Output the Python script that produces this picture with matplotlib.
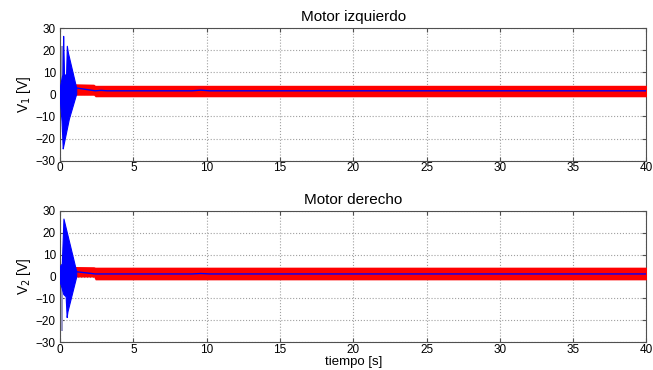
import numpy as np
import matplotlib
matplotlib.use('Agg')
import matplotlib.pyplot as plt

plt.rcParams['font.family'] = ['Liberation Sans', 'DejaVu Sans']

# envelope of the blue transient, top panel
t_up1 = [0.0, 0.12, 0.16, 0.21, 0.27, 0.41, 0.46, 0.53, 1.1]
up1 = [4, 8, 9, 26.5, 9, 9, 22, 19, 3]
t_lo1 = [0.0, 0.1, 0.18, 0.6, 1.1]
lo1 = [-4, -12, -24.5, -11, 0.3]
# gray shading at the very beginning
t_gray1 = [0.0, 0.2]
gray_lo1 = [-10, -10]
gray_hi1 = [22, 22]

# bottom panel
t_up2 = [0.0, 0.12, 0.23, 1.1]
up2 = [5, 6, 26.5, 2.5]
t_lo2 = [0.0, 0.1, 0.22, 0.38, 0.45, 0.5, 1.1]
lo2 = [-3, -5, -8, -9, -18.5, -16, 0]
t_gray2 = [0.0, 0.2]
gray_lo2 = [-25, -25]
gray_hi2 = [5, 5]

# red band (dense switching signal) and blue mean line
t_red = [1.0, 2.3, 2.4, 40.0]
red_lo1 = [-0.4, -0.4, -1.1, -1.1]
red_hi1 = [4.8, 4.6, 4.1, 4.1]
red_lo2 = [-0.2, -0.2, -1.5, -1.5]
red_hi2 = [4.6, 4.5, 4.3, 4.3]

t_mean = [1.0, 2.4, 2.8, 3.2, 9.0, 9.6, 10.2, 40.0]
mean1 = [3.0, 1.6, 1.8, 1.6, 1.6, 1.9, 1.6, 1.6]
mean2 = [2.3, 1.2, 1.2, 1.2, 1.2, 1.4, 1.2, 1.2]

titles = ['Motor izquierdo', 'Motor derecho']
ylabels = ['V$_1$ [V]', 'V$_2$ [V]']

fig = plt.figure(figsize=(6.53, 3.70), dpi=100)
ax1 = fig.add_axes([0.092, 0.566, 0.898, 0.358])
ax2 = fig.add_axes([0.092, 0.075, 0.898, 0.355])

panels = [
    (ax1, t_up1, up1, t_lo1, lo1, t_gray1, gray_lo1, gray_hi1, red_lo1, red_hi1, mean1),
    (ax2, t_up2, up2, t_lo2, lo2, t_gray2, gray_lo2, gray_hi2, red_lo2, red_hi2, mean2),
]

for i, (ax, tu, u, tl, l, tg, glo, ghi, rlo, rhi, mn) in enumerate(panels):
    ax.fill_between(tg, glo, ghi, color='#9a9ac8', lw=0, zorder=2)
    ax.fill_between(t_red, rlo, rhi, color='#ff0000', lw=0, zorder=3)
    # merge envelopes onto a common time grid for the polygon
    tt = np.union1d(tu, tl)
    ax.fill_between(tt, np.interp(tt, tl, l), np.interp(tt, tu, u),
                    color='#0000ff', lw=0.8, zorder=4)
    ax.plot(t_mean, mn, color='#0000ff', lw=1, zorder=5)

    ax.set_xlim(0, 40)
    ax.set_ylim(-30, 30)
    ax.set_xticks(np.arange(0, 41, 5))
    ax.set_yticks(np.arange(-30, 31, 10))
    ax.grid(True, linestyle=':', color='#a0a0a0', linewidth=0.8)
    ax.set_axisbelow(True)
    ax.tick_params(direction='in', length=3, labelsize=8.5, top=True, right=True,
                   color='#505050')
    ax.tick_params(axis='x', pad=1)
    ax.tick_params(axis='y', pad=3)
    for s in ax.spines.values():
        s.set_color('#505050')
        s.set_linewidth(0.8)
    ax.set_title(titles[i], fontsize=11, pad=5)
    ax.set_ylabel(ylabels[i], fontsize=10, labelpad=2)

ax2.set_xlabel('tiempo [s]', fontsize=9.5, labelpad=0)

fig.savefig('out.png', dpi=100)
